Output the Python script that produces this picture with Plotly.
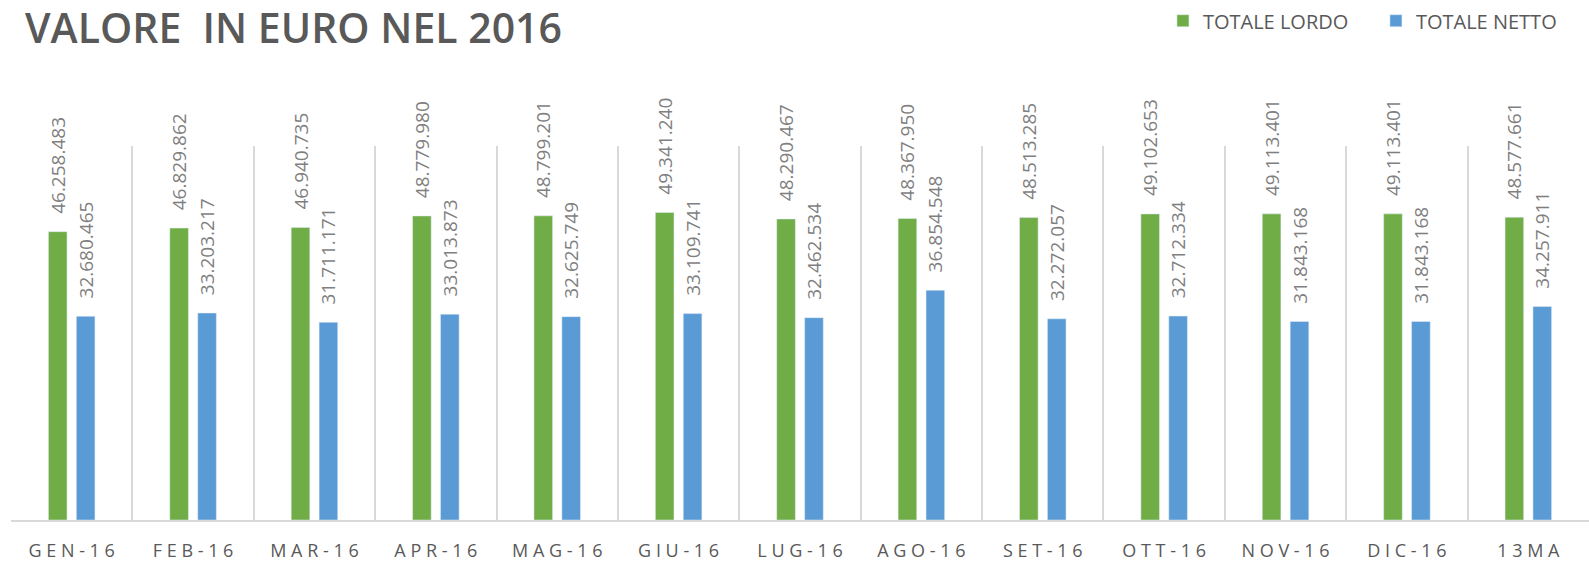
import plotly.graph_objects as go

# categorie e valori (euro)
mesi = ["GEN-16", "FEB-16", "MAR-16", "APR-16", "MAG-16", "GIU-16", "LUG-16",
        "AGO-16", "SET-16", "OTT-16", "NOV-16", "DIC-16", "13MA"]
totale_lordo = [46258483, 46829862, 46940735, 48779980, 48799201, 49341240, 48290467,
                48367950, 48513285, 49102653, 49113401, 49113401, 48577661]
totale_netto = [32680465, 33203217, 31711171, 33013873, 32625749, 33109741, 32462534,
                36854548, 32272057, 32712334, 31843168, 31843168, 34257911]

# etichette spaziate come in Excel
etichette = [" ".join(m) for m in mesi]

fig = go.Figure()
for nome, valori, colore in [("TOTALE LORDO", totale_lordo, "#70ad47"),
                             ("TOTALE NETTO", totale_netto, "#5b9bd5")]:
    fig.add_trace(go.Bar(
        x=mesi, y=valori, name=nome, marker_color=colore,
        texttemplate="\u00a0\u00a0\u00a0%{y:,.0f}",
        textposition="outside", textangle=-90, cliponaxis=False,
        constraintext="none",
        textfont=dict(size=19, color="#7f7f7f"),
    ))

fig.update_layout(
    width=1589, height=561,
    margin=dict(l=11, r=0, t=146, b=41),
    paper_bgcolor="white", plot_bgcolor="white",
    font=dict(family="Open Sans", color="#595959"),
    separators=",.",
    barmode="group", bargap=0.54, bargroupgap=0.333,
    title=dict(text="VALORE\u00a0 IN EURO NEL 2016",
               font=dict(size=41, color="#595959", weight=600),
               x=25 / 1589, xref="container", xanchor="left",
               y=1 - 29 / 561, yref="container", yanchor="middle"),
    legend=dict(orientation="h", x=0.730, xanchor="left", y=1.335, yanchor="middle",
                font=dict(size=20, color="#595959"),
                entrywidth=168, entrywidthmode="pixels"),
    showlegend=True,
)
fig.update_xaxes(type="category", tickson="boundaries", showgrid=True,
                 gridcolor="#d9d9d9", gridwidth=2, showline=True,
                 linecolor="#d9d9d9", linewidth=2, ticks="",
                 tickvals=mesi, ticktext=etichette,
                 tickfont=dict(size=18, color="#595959"), ticklabelstandoff=13)
fig.update_yaxes(range=[0, 60000000], visible=False)

# togli il margine del body così il grafico riempie la finestra
fig.write_html("out.html", config={"displayModeBar": False},
               post_script="document.body.style.margin='0';")
